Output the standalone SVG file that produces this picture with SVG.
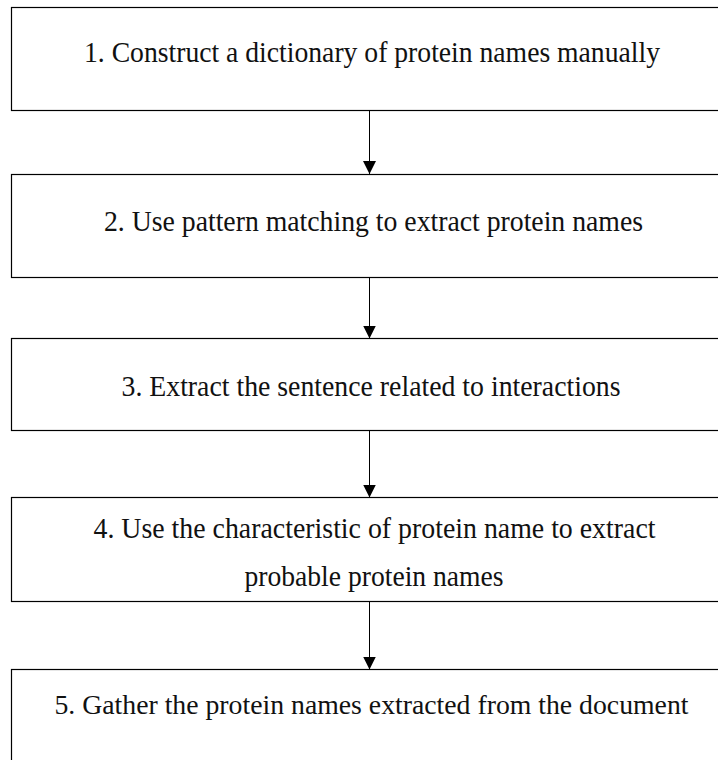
<svg xmlns="http://www.w3.org/2000/svg" width="718" height="760" viewBox="0 0 718 760">
  <defs>
    <marker id="arrow" markerUnits="userSpaceOnUse" markerWidth="13" markerHeight="13" refX="13" refY="6.5" orient="auto" viewBox="0 0 13 13">
      <path d="M0,0 L13,6.5 L0,13 z" fill="#000"/>
    </marker>
    <style>
      .box { fill: #fff; stroke: #000; stroke-width: 1.2; }
      .label { font-family: "Liberation Serif", serif; font-size: 29.5px; fill: #111; }
      .small { font-size: 28px; }
      .conn { stroke: #000; stroke-width: 1; fill: none; marker-end: url(#arrow); }
    </style>
  </defs>
  <rect width="718" height="760" fill="#fff"/>

  <g id="node1">
    <rect class="box" x="11.5" y="7.5" width="740" height="103"/>
    <text class="label" x="84" y="62" textLength="576" lengthAdjust="spacingAndGlyphs">1. Construct a dictionary of protein names manually</text>
  </g>
  <g id="node2">
    <rect class="box" x="11.5" y="174.5" width="740" height="103"/>
    <text class="label" x="104" y="231" textLength="539" lengthAdjust="spacingAndGlyphs">2. Use pattern matching to extract protein names</text>
  </g>
  <g id="node3">
    <rect class="box" x="11.5" y="338.5" width="740" height="92"/>
    <text class="label" x="121.5" y="395.5" textLength="499" lengthAdjust="spacingAndGlyphs">3. Extract the sentence related to interactions</text>
  </g>
  <g id="node4">
    <rect class="box" x="11.5" y="497.5" width="740" height="104"/>
    <text class="label" x="93.5" y="538" textLength="562" lengthAdjust="spacingAndGlyphs">4. Use the characteristic of protein name to extract</text>
    <text class="label" x="244.5" y="586" textLength="259" lengthAdjust="spacingAndGlyphs">probable protein names</text>
  </g>
  <g id="node5">
    <rect class="box" x="11.5" y="669.5" width="740" height="120"/>
    <text class="label small" x="54.5" y="714" textLength="634" lengthAdjust="spacingAndGlyphs">5. Gather the protein names extracted from the document</text>
  </g>

  <g id="connectors">
    <line class="conn" x1="369.5" y1="111" x2="369.5" y2="174"/>
    <line class="conn" x1="369.5" y1="278" x2="369.5" y2="338.5"/>
    <line class="conn" x1="369.5" y1="431" x2="369.5" y2="497.5"/>
    <line class="conn" x1="369.5" y1="602" x2="369.5" y2="669.5"/>
  </g>
</svg>
